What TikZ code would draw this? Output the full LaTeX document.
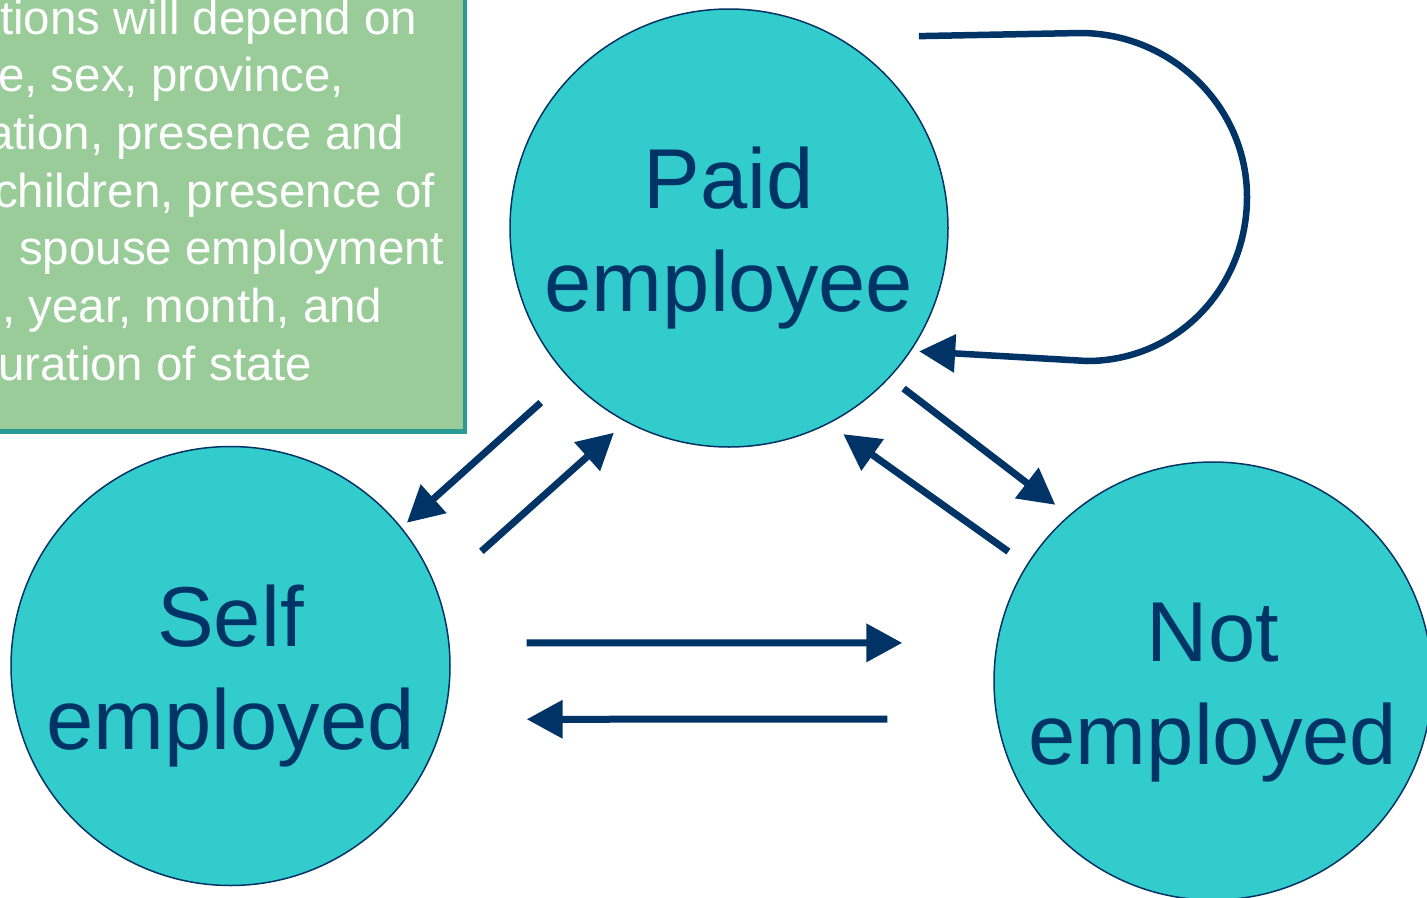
\documentclass[tikz,border=0pt]{standalone}
\usepackage{fontspec}
\setmainfont{Liberation Sans}
\usetikzlibrary{arrows.meta}
\definecolor{navy}{HTML}{003366}
\definecolor{aqua}{HTML}{33CCCC}
\definecolor{sage}{HTML}{99CC99}
\definecolor{notebrd}{HTML}{2A9A94}
\tikzset{
  jobstate/.style={shape=circle,draw=navy,fill=aqua,line width=1.5pt,minimum size=438pt,inner sep=0pt,
    text=navy,align=center,font=\fontsize{85}{102.7}\selectfont,text height=184pt,text depth=18pt},
  arr/.style={draw=navy,line width=7pt,-{Triangle[length=36pt,width=37pt]}},
  note/.style={anchor=base west,inner sep=0pt,text=white,font=\fontsize{47.5}{57}\selectfont}
}

\begin{document}
\begin{tikzpicture}[x=1pt,y=-1pt]
        \useasboundingbox (0,0) rectangle (1427,897);
        \clip (0,0) rectangle (1427,897);
        % note box
        \draw[draw=notebrd,fill=sage,line width=4.5pt] (-20,-20) rectangle (465,431.5);
        \node[note] (l1) at (0,34){tions will depend on};
        \node[note] (l2) at (-2,91.7){e, sex, province,};
        \node[note] (l3) at (-13,149.3){ation, presence and};
        \node[note] (l4) at (-6,207){children, presence of};
        \node[note] (l5) at (19,264.7){spouse employment};
        \node[note] (l6) at (2,322.3){, year, month, and};
        \node[note] (l7) at (-2,380){uration of state};
        % states
        \node[jobstate] (paid) at (729,228){Paid\\employee};
        \node[jobstate,minimum size=439pt] (self) at (230.5,666){Self\\employed};
        \node[jobstate] (notemp) at (1213,681){Not\\employed};
        % transitions
        \draw [arr,shorten <=37pt,shorten >=7pt](paid.223) -- (self.39.5);
        \draw [arr,shorten <=59pt,shorten >=16pt](self.20) -- (paid.242.6);
        \draw [arr,shorten <=17.5pt,shorten >=17pt](paid.317.4) -- (notemp.131.7);
        \draw [arr,shorten <=22.4pt,shorten >=17.8pt](notemp.148) -- (paid.297.3);
        \draw [arr,shorten <=77.2pt,shorten >=94.3pt](self.6) -- (notemp.170);
        \draw [arr,shorten <=109.3pt,shorten >=82.5pt](notemp.190) -- (self.346);
        % stay in paid
        \draw [arr,line width=6.5pt,shorten <=80pt,shorten >=8pt](paid.60.2) -- (1080,33)
          .. controls (1171,33) and (1247,106) .. (1247,197)
          .. controls (1247,288) and (1177,361) .. (1087,361) -- (paid.326.6);
\end{tikzpicture}
\end{document}
